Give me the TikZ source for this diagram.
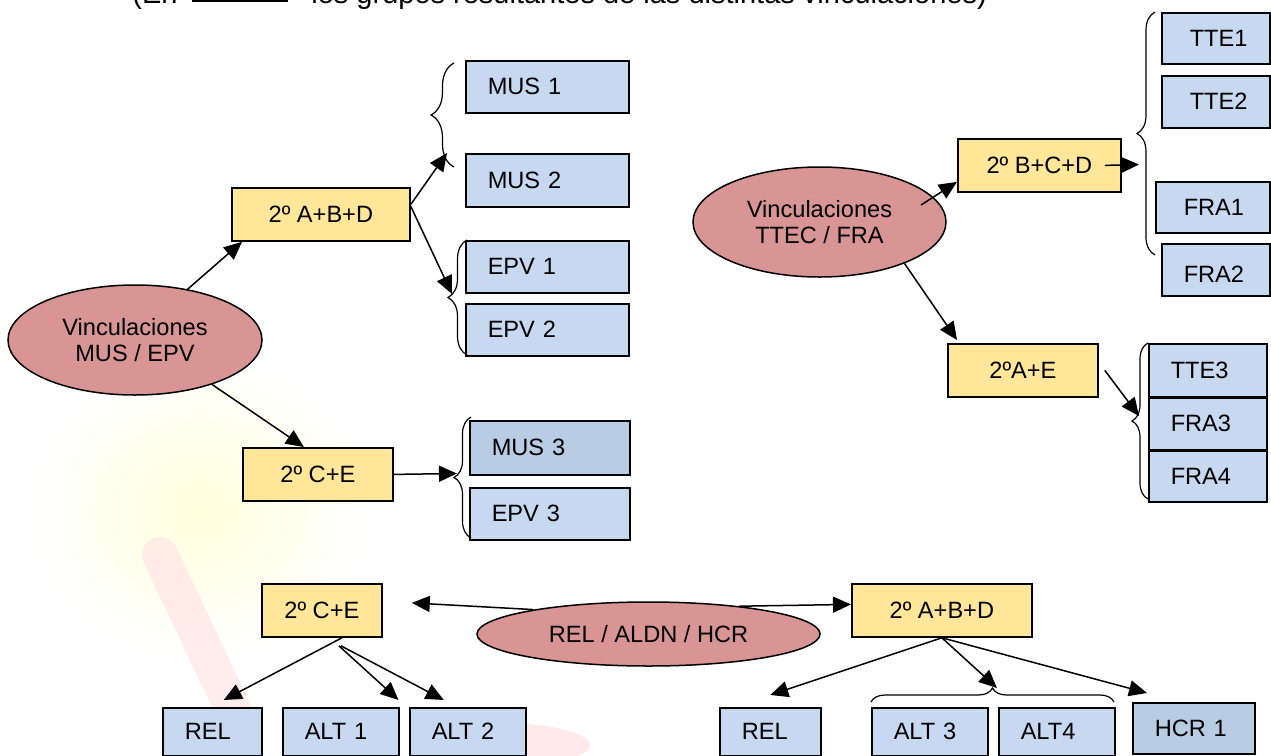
\documentclass[tikz,border=0pt]{standalone}
\usepackage{fontspec}
\setmainfont{Liberation Sans}
\usetikzlibrary{arrows.meta,shapes.geometric,decorations.pathreplacing}

\definecolor{ovalred}{HTML}{D99594}
\definecolor{cyellow}{HTML}{FFE699}
\definecolor{gblue}{HTML}{C6D9F1}
\definecolor{gblue2}{HTML}{B8CCE4}

\begin{document}
\begin{tikzpicture}[x=0.5pt, y=-0.5pt, font=\fontsize{11.8}{13}\selectfont,
  oval/.style={draw, ellipse, fill=ovalred, line width=0.75pt, inner sep=0pt, align=center},
  cls/.style={draw, fill=cyellow, line width=0.9pt, anchor=north west, minimum height=26.5pt},
  grp/.style={draw, fill=gblue, line width=0.75pt, anchor=north west, inner xsep=11pt, align=left},
  arr/.style={-{Triangle[length=9pt,width=8pt]}, line width=0.75pt},
  brc/.style={decorate, decoration={brace, amplitude=#1}, line width=0.6pt}]
\useasboundingbox (0,0) rectangle (1271,756);
\clip (0,0) rectangle (1271,756);

% faint logo behind
\shade[inner color=yellow!14, outer color=white] (200,510) ellipse (170 and 150);
\draw[line width=18pt, red!10, opacity=.7, line cap=round] (160,555) -- (245,735);
\fill[red!22, opacity=.4] (500,745) ellipse (90 and 22);

% heading (cut at top)
\node[anchor=base west, font=\fontsize{14.5}{17}\selectfont, inner sep=0pt] (note1) at (132,3) {(En};
\fill (192,0) rectangle (288,2);
\node[anchor=base west, font=\fontsize{14.5}{17}\selectfont, inner sep=0pt] (note2) at (311,3) {los grupos resultantes de las distintas vinculaciones)};

% MUS / EPV
\node[oval, minimum width=127pt, minimum height=55pt] (mus) at (135,340) {Vinculaciones\\MUS / EPV};
\node[cls, minimum width=89pt] (abd1) at (231,187) {2º A+B+D};
\node[cls, minimum width=75pt] (ce1) at (242,447) {2º C+E};
\node[grp, text width=59.5pt, minimum height=26pt] (mus1) at (465,60) {MUS 1};
\node[grp, text width=59.5pt, minimum height=26.5pt] (mus2) at (465,153) {MUS 2};
\node[grp, text width=59.5pt, minimum height=26pt] (epv1) at (465,240) {EPV 1};
\node[grp, text width=59.5pt, minimum height=26pt] (epv2) at (465,303) {EPV 2};
\node[grp, fill=gblue2, text width=58pt, minimum height=27pt] (mus3) at (469,420) {MUS 3};
\node[grp, text width=58pt, minimum height=26pt] (epv3) at (469,487) {EPV 3};

\draw[brc=11.5pt] (454,167) -- (454,63);
\draw[brc=9.5pt] (467,355) -- (467,240);
\draw[brc=8.5pt] (471,538) -- (471,417);
\coordinate (musbr) at (447,153);
\coordinate (epvbr) at (452,294);
\coordinate (ce1br) at (457,473.5);

\draw[arr] (mus.44) -- ([xshift=5.5pt]abd1.south west);
\draw[arr] (mus.-30) -- ([xshift=-7pt]ce1.north);
\draw[arr] ([yshift=5pt]abd1.east) -- (musbr);
\draw[arr] ([yshift=4pt]abd1.east) -- (epvbr);
\draw[arr] (ce1.east) -- (ce1br);

% TTEC / FRA
\node[oval, minimum width=126.5pt, minimum height=55pt] (ttec) at (819.5,222) {Vinculaciones\\TTEC / FRA};
\node[cls, minimum width=81.5pt] (bcd) at (957,138) {2º B+C+D};
\node[cls, minimum width=75pt] (ae) at (947,343) {2ºA+E};
\node[grp, text width=32pt, minimum height=25.5pt] (tte1) at (1161,12) {\hspace{3pt}TTE1};
\node[grp, text width=32pt, minimum height=26pt] (tte2) at (1161,75) {\hspace{3pt}TTE2};
\node[grp, text width=35pt, minimum height=25.5pt] (fra1) at (1155,181) {\hspace{3pt}FRA1};
\node[grp, text width=32pt, minimum height=26pt] (fra2) at (1161,243) {\hspace{3pt}FRA2};
\node[grp, text width=37pt, minimum height=26.5pt] (tte3) at (1148,343) {TTE3};
\node[grp, text width=37pt, minimum height=25.5pt] (fra3) at (tte3.south west) {FRA3};
\node[grp, text width=37pt, minimum height=25.5pt] (fra4) at (fra3.south west) {FRA4};

\draw[brc=9pt] (1155,255) -- (1155,12);
\draw[brc=8pt] (1148,499) -- (1148,343);
\coordinate (ttecout) at (921,205);
\coordinate (bcdbr) at (1139,164.5);
\coordinate (aebr) at (1139,416);

\draw[arr] (ttecout) -- ([yshift=-8.25pt]bcd.west);
\draw[arr] ([xshift=-8.5pt]bcd.east) -- (bcdbr);
\draw[arr] (ttec.-26) -- ([shift={(5pt,1.5pt)}]ae.north west);
\draw[arr] ([xshift=3pt]ae.east) -- (aebr);

% REL / ALDN / HCR
\node[oval, minimum width=171.5pt, minimum height=32pt] (rah) at (648.5,634) {REL / ALDN / HCR};
\node[cls, minimum width=60pt] (ce2) at (261,583) {2º C+E};
\node[cls, minimum width=90pt] (abd2) at (851,583) {2º A+B+D};
\node[grp, text width=27.5pt, minimum height=24pt] (rel1) at (162,707) {REL};
\node[grp, text width=36pt, minimum height=24pt] (alt1) at (282,707) {ALT 1};
\node[grp, text width=36pt, minimum height=24pt] (alt2) at (409,707) {ALT 2};
\node[grp, text width=28.5pt, minimum height=24pt] (rel2) at (719,707) {REL};
\node[grp, text width=36pt, minimum height=24pt] (alt3) at (871,707) {ALT 3};
\node[grp, text width=36pt, minimum height=24pt] (alt4) at (998,707) {ALT4};
\node[grp, fill=gblue2, text width=39pt, minimum height=25.5pt] (hcr1) at (1132,702) {HCR 1};

\draw[brc=7pt] (871,702) -- (1114,702);
\coordinate (altbr) at (997,688);

\draw[arr] (rah.168) -- ([shift={(14.5pt,3.75pt)}]ce2.east);
\draw[arr] (rah.17) -- ([yshift=3pt]abd2.west);
\draw[arr] ([xshift=10pt]ce2.south) -- ([shift={(5.75pt,3.5pt)}]rel1.north);
\draw[arr] ([shift={(8.5pt,-4pt)}]ce2.south) -- ([shift={(-0.5pt,3.5pt)}]alt1.north east);
\draw[arr] ([shift={(9.5pt,-4pt)}]ce2.south) -- ([shift={(-12pt,3.5pt)}]alt2.north);
\draw[arr] (abd2.south) -- ([yshift=6pt]rel2.north);
\draw[arr] (abd2.south) -- (altbr);
\draw[arr] (abd2.south) -- ([shift={(7.5pt,4.5pt)}]hcr1.north west);
\end{tikzpicture}
\end{document}
